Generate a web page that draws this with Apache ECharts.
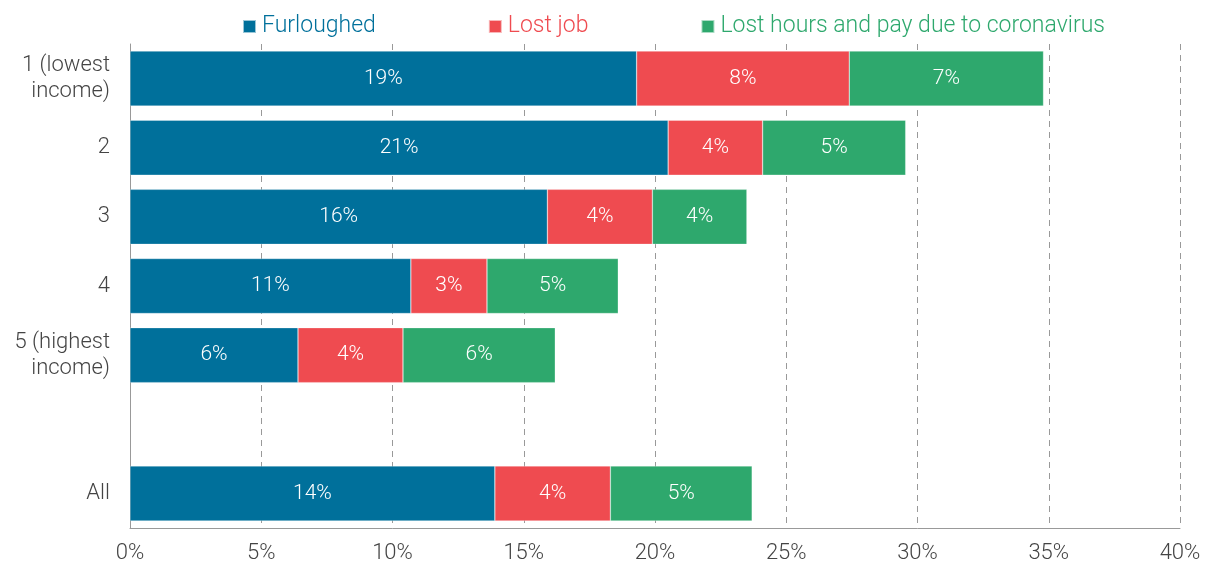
<!DOCTYPE html>
<html>
<head>
<meta charset="utf-8">
<script src="https://cdn.jsdelivr.net/npm/echarts@6/dist/echarts.min.js"></script>
<style>
html,body{margin:0;padding:0;background:#fff;}
#chart{width:1206px;height:564px;}
</style>
</head>
<body>
<div id="chart"></div>
<script>
const categories = ['1 (lowest\nincome)', '2', '3', '4', '5 (highest\nincome)', '', 'All'];
const furloughed = [19.3, 20.5, 15.9, 10.7, 6.4, null, 13.9];
const lostJob = [8.1, 3.6, 4.0, 2.9, 4.0, null, 4.4];
const lostHours = [7.4, 5.45, 3.6, 5.0, 5.8, null, 5.4];
const xTicks = [0, 5, 10, 15, 20, 25, 30, 35, 40];

const font = 'Roboto, "Noto Sans", sans-serif';
const colors = ['#00709b', '#ef4b50', '#2ea86d'];

function mk(name, data, color) {
  return {
    name: name,
    type: 'bar',
    stack: 'total',
    data: data,
    barWidth: 55,
    itemStyle: { color: color, borderColor: 'rgba(255,255,255,0.6)', borderWidth: 0.5 },
    label: {
      show: true,
      position: 'inside',
      color: '#fff',
      fontFamily: font,
      fontWeight: 300,
      fontSize: 21,
      formatter: p => (p.value == null ? '' : Math.round(p.value) + '%')
    }
  };
}

const chart = echarts.init(document.getElementById('chart'));
chart.setOption({
  animation: false,
  color: colors,
  legend: {
    top: 10,
    left: 237,
    itemWidth: 13,
    itemHeight: 13,
    itemGap: 112,
    icon: 'rect',
    textStyle: { fontFamily: font, fontWeight: 300, fontSize: 23, padding: [0, 0, 0, 1] },
    data: [
      { name: 'Furloughed', textStyle: { color: colors[0] } },
      { name: 'Lost job', textStyle: { color: colors[1] } },
      { name: 'Lost hours and pay due to coronavirus', textStyle: { color: colors[2] } }
    ]
  },
  grid: { left: 130, right: 26, top: 44, bottom: 36, containLabel: false },
  xAxis: {
    type: 'value',
    min: 0,
    max: 40,
    interval: 5,
    axisLine: { show: true, lineStyle: { color: '#999' } },
    axisTick: { show: false },
    splitLine: { show: true, lineStyle: { type: [6, 5], color: '#999', width: 1 } },
    axisLabel: {
      margin: 14,
      color: '#444',
      fontFamily: font,
      fontWeight: 300,
      fontSize: 22,
      formatter: v => (xTicks.includes(v) ? v + '%' : '')
    }
  },
  yAxis: {
    type: 'category',
    inverse: true,
    data: categories,
    axisLine: { show: true, lineStyle: { color: '#999' } },
    axisTick: { show: false },
    axisLabel: {
      margin: 20,
      color: '#444',
      fontFamily: font,
      fontWeight: 300,
      fontSize: 22,
      lineHeight: 26,
      align: 'right'
    }
  },
  series: [
    mk('Furloughed', furloughed, colors[0]),
    mk('Lost job', lostJob, colors[1]),
    mk('Lost hours and pay due to coronavirus', lostHours, colors[2])
  ]
});
</script>
</body>
</html>
